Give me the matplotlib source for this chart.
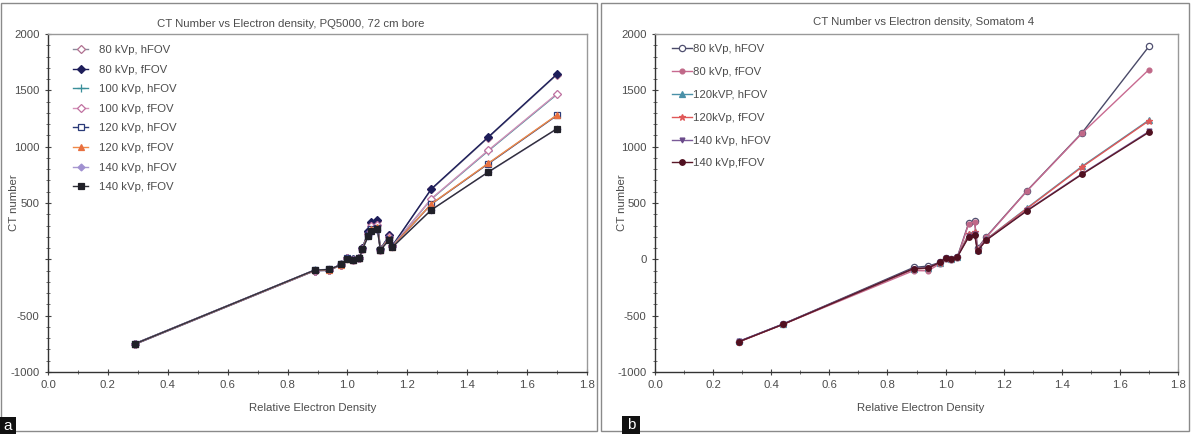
import matplotlib
matplotlib.use("Agg")
import matplotlib.pyplot as plt
from matplotlib.ticker import MultipleLocator, FuncFormatter
from matplotlib.patches import Rectangle

plt.rcParams['font.family'] = ['Liberation Sans', 'DejaVu Sans']
plt.rcParams['axes.unicode_minus'] = False

# ---------------- Panel a data (PQ5000, 72 cm bore) ----------------
title_a = "CT Number vs Electron density, PQ5000, 72 cm bore"
x_a = [0.29, 0.89, 0.94, 0.98, 1.00, 1.02, 1.04, 1.05, 1.07, 1.08, 1.10, 1.11, 1.14, 1.15, 1.28, 1.47, 1.70]
labels_a = ["80 kVp, hFOV", "80 kVp, fFOV", "100 kVp, hFOV", "100 kVp, fFOV",
            "120 kVp, hFOV", "120 kVp, fFOV", "140 kVp, hFOV", "140 kVp, fFOV"]
kv80_h_a  = [-752, -100, -95, -45, 12, 2, 15, 100, 245, 325, 340, 92, 212, 122, 620, 1080, 1640]
kv80_f_a  = [-755, -102, -98, -47, 10, 0, 14, 102, 250, 330, 345, 90, 215, 120, 625, 1085, 1645]
kv100_h_a = [-750, -98, -92, -45, 10, 0, 12, 95, 225, 290, 305, 88, 195, 118, 535, 962, 1465]
kv100_f_a = [-752, -100, -95, -47, 8, -2, 12, 96, 228, 292, 308, 86, 198, 116, 538, 967, 1470]
kv120_h_a = [-748, -96, -90, -45, 8, -2, 10, 92, 215, 268, 282, 86, 182, 114, 490, 848, 1278]
kv120_f_a = [-750, -98, -92, -46, 6, -3, 10, 93, 218, 270, 285, 85, 185, 112, 492, 852, 1282]
kv140_h_a = [-748, -95, -88, -44, 6, -4, 9, 90, 205, 245, 262, 84, 172, 110, 440, 772, 1158]
kv140_f_a = [-750, -96, -90, -45, 5, -5, 8, 90, 208, 248, 265, 82, 175, 108, 438, 775, 1160]

# ---------------- Panel b data (Somatom 4) ----------------
title_b = "CT Number vs Electron density, Somatom 4"
x_b = [0.29, 0.44, 0.89, 0.94, 0.98, 1.00, 1.02, 1.04, 1.08, 1.10, 1.11, 1.14, 1.28, 1.47, 1.70]
labels_b = ["80 kVp, hFOV", "80 kVp, fFOV", "120kVP, hFOV", "120kVp, fFOV", "140 kVp, hFOV", "140 kVp,fFOV"]
kv80_h_b  = [-730, -575, -72, -60, -28, 12, 2, 18, 325, 340, 98, 200, 608, 1124, 1890]
kv80_f_b  = [-732, -578, -100, -102, -40, 5, -5, 10, 318, 335, 90, 195, 606, 1120, 1684]
kv120_h_b = [-728, -576, -85, -78, -30, 10, 4, 20, 228, 246, 85, 178, 455, 826, 1236]
kv120_f_b = [-730, -578, -86, -80, -30, 9, 3, 19, 222, 240, 80, 176, 450, 820, 1230]
kv140_h_b = [-726, -575, -82, -76, -26, 12, 5, 20, 205, 225, 78, 172, 435, 760, 1135]
kv140_f_b = [-730, -578, -82, -77, -27, 11, 4, 19, 200, 220, 75, 170, 430, 755, 1128]

series_a = [kv80_h_a, kv80_f_a, kv100_h_a, kv100_f_a, kv120_h_a, kv120_f_a, kv140_h_a, kv140_f_a]
series_b = [kv80_h_b, kv80_f_b, kv120_h_b, kv120_f_b, kv140_h_b, kv140_f_b]

styles_a = [
    dict(color='#8a8a9a', marker='D', mfc='white', mec='#b07090', ms=4),
    dict(color='#1e1e5a', marker='D', mfc='#1e1e5a', mec='#1e1e5a', ms=4.5),
    dict(color='#3a8f9a', marker='+', mfc='#3a8f9a', mec='#3a8f9a', ms=6),
    dict(color='#d590b8', marker='D', mfc='white', mec='#c070a0', ms=4.5),
    dict(color='#2a3a78', marker='s', mfc='white', mec='#2a3a78', ms=5),
    dict(color='#f08a48', marker='^', mfc='#e87040', mec='#e87040', ms=5),
    dict(color='#a898d0', marker='D', mfc='#a090d0', mec='#a090d0', ms=3.5),
    dict(color='#303038', marker='s', mfc='#202028', mec='#202028', ms=4),
]
styles_b = [
    dict(color='#4a4a68', marker='o', mfc='white', mec='#505070', ms=4.5),
    dict(color='#c86a90', marker='o', mfc='#c06888', mec='#c06888', ms=3.5),
    dict(color='#4a90a8', marker='^', mfc='#4a90a8', mec='#4a90a8', ms=4),
    dict(color='#e05858', marker='*', mfc='#e05858', mec='#e05858', ms=5),
    dict(color='#7a5a98', marker='v', mfc='#6a4a8a', mec='#6a4a8a', ms=3.5),
    dict(color='#5a1828', marker='o', mfc='#501020', mec='#501020', ms=4),
]

W, H = 1191, 434
fig = plt.figure(figsize=(W / 100, H / 100), dpi=100)
fig.patch.set_facecolor('white')

txt_color = '#4c4c4c'
fs = 8.2


def fx(px):
    return px / W


def fy(py):
    return 1 - py / H


def setup(ax, hide_zero):
    ax.set_xlim(0.0, 1.8)
    ax.set_ylim(-1000, 2000)
    ax.xaxis.set_major_locator(MultipleLocator(0.2))
    ax.xaxis.set_minor_locator(MultipleLocator(0.1))
    ax.yaxis.set_major_locator(MultipleLocator(500))
    ax.yaxis.set_minor_locator(MultipleLocator(100))
    ax.xaxis.set_major_formatter(FuncFormatter(lambda v, p: f"{v:.1f}"))
    if hide_zero:
        ax.yaxis.set_major_formatter(FuncFormatter(lambda v, p: "" if abs(v) < 1e-9 else f"{int(round(v))}"))
    else:
        ax.yaxis.set_major_formatter(FuncFormatter(lambda v, p: f"{int(round(v))}"))
    ax.tick_params(axis='both', which='major', direction='inout', length=4, width=0.8,
                   colors='#444444', labelcolor=txt_color, labelsize=fs)
    ax.tick_params(axis='both', which='minor', direction='inout', length=2.5, width=0.6, colors='#555555')
    ax.tick_params(axis='y', pad=4)
    ax.tick_params(axis='x', pad=4)
    for s in ['left', 'bottom']:
        ax.spines[s].set_color('#333333')
        ax.spines[s].set_linewidth(1.0)
    for s in ['top', 'right']:
        ax.spines[s].set_color('#999999')
        ax.spines[s].set_linewidth(1.0)
    ax.set_facecolor('white')


# Panel a axes
ax_a = fig.add_axes([fx(48), fy(372), fx(587 - 48), (372 - 34) / H])
setup(ax_a, True)
for vals, lab, st in zip(series_a, labels_a, styles_a):
    ax_a.plot(x_a, vals, label=lab, lw=1.0, color=st['color'], marker=st['marker'],
              markerfacecolor=st['mfc'], markeredgecolor=st['mec'], markersize=st['ms'],
              markeredgewidth=0.9)
leg_a = ax_a.legend(loc='upper left', bbox_to_anchor=(0.047, 0.967), frameon=False,
                    fontsize=fs, labelspacing=0.84, handlelength=1.3, handletextpad=0.95,
                    borderpad=0, borderaxespad=0)
for t in leg_a.get_texts():
    t.set_color(txt_color)

# Panel b axes
ax_b = fig.add_axes([fx(655), fy(372), fx(1178 - 655), (372 - 34) / H])
setup(ax_b, False)
for vals, lab, st in zip(series_b, labels_b, styles_b):
    ax_b.plot(x_b, vals, label=lab, lw=1.0, color=st['color'], marker=st['marker'],
              markerfacecolor=st['mfc'], markeredgecolor=st['mec'], markersize=st['ms'],
              markeredgewidth=0.9)
leg_b = ax_b.legend(loc='upper left', bbox_to_anchor=(0.033, 0.969), frameon=False,
                    fontsize=fs, labelspacing=1.12, handlelength=1.75, handletextpad=0.1,
                    borderpad=0, borderaxespad=0)
for t in leg_b.get_texts():
    t.set_color(txt_color)

# Titles and axis labels
fig.text(fx(291), fy(24), title_a, ha='center', va='center', fontsize=fs, color=txt_color)
fig.text(fx(924), fy(22), title_b, ha='center', va='center', fontsize=fs, color=txt_color)
fig.text(fx(313), fy(408), "Relative Electron Density", ha='center', va='center', fontsize=fs, color=txt_color)
fig.text(fx(921), fy(408), "Relative Electron Density", ha='center', va='center', fontsize=fs, color=txt_color)
fig.text(fx(14), fy(203), "CT number", ha='center', va='center', rotation=90, fontsize=fs, color=txt_color)
fig.text(fx(622), fy(203), "CT number", ha='center', va='center', rotation=90, fontsize=fs, color=txt_color)

# Panel frames
fig.patches.append(Rectangle((fx(1), fy(431)), fx(597 - 1), (431 - 3) / H, transform=fig.transFigure,
                             fill=False, edgecolor='#8a8a8a', lw=1.0))
fig.patches.append(Rectangle((fx(601), fy(431)), fx(1189 - 601), (431 - 3) / H, transform=fig.transFigure,
                             fill=False, edgecolor='#8a8a8a', lw=1.0))

# Panel letters
fig.patches.append(Rectangle((fx(0), fy(434)), fx(16), 17 / H, transform=fig.transFigure,
                             facecolor='#111111', edgecolor='none'))
fig.text(fx(8), fy(425.5), "a", ha='center', va='center', fontsize=11, color='white')
fig.patches.append(Rectangle((fx(622), fy(434)), fx(18), 18 / H, transform=fig.transFigure,
                             facecolor='#111111', edgecolor='none'))
fig.text(fx(631), fy(425), "b", ha='center', va='center', fontsize=11, color='white')

fig.savefig("out.png", dpi=100, facecolor='white')
